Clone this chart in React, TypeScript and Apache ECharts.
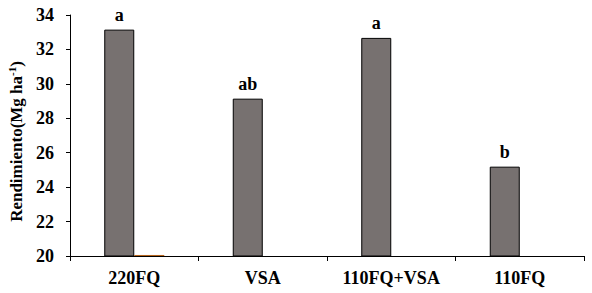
import React, { useEffect, useRef } from "react";
import * as echarts from "echarts";

const categories = ["220FQ", "VSA", "110FQ+VSA", "110FQ"];
const yieldValues = [33.15, 29.14, 32.67, 25.19];
const letters = ["a", "ab", "a", "b"];
const secondValues: (number | string)[] = [20.06, "-", "-", "-"];
const yMin = 20;
const yMax = 34;
const yInterval = 2;

const FONT = "Liberation Serif";

export default function App() {
  const ref = useRef<HTMLDivElement>(null);
  useEffect(() => {
    if (!ref.current) return;
    const chart = echarts.init(ref.current, undefined, { renderer: "svg" });
    chart.setOption({
      animation: false,
      grid: {
        left: 70,
        right: 8,
        top: 15,
        bottom: 37,
        containLabel: false,
        outerBoundsMode: "none",
      },
      xAxis: {
        type: "category",
        data: categories,
        axisLine: { lineStyle: { color: "#000", width: 1 } },
        axisTick: { show: true, length: 5, lineStyle: { color: "#000" } },
        axisLabel: {
          color: "#000",
          fontFamily: FONT,
          fontWeight: "bold",
          fontSize: 18,
          margin: 13,
        },
      },
      yAxis: {
        type: "value",
        min: yMin,
        max: yMax,
        interval: yInterval,
        splitLine: { show: false },
        axisLine: { show: true, lineStyle: { color: "#000", width: 1 } },
        axisTick: { show: true, length: 4, lineStyle: { color: "#000" } },
        axisLabel: {
          color: "#000",
          fontFamily: FONT,
          fontWeight: "bold",
          fontSize: 18,
          margin: 16,
        },
        name: "{a|Rendimiento(Mg ha}{s|-1}{a|)}",
        nameLocation: "middle",
        nameGap: 41,
        nameRotate: 90,
        nameTextStyle: {
          padding: [0, 12, 0, 0],
          rich: {
            a: {
              fontFamily: FONT,
              fontWeight: "bold",
              fontSize: 17,
              color: "#000",
              lineHeight: 20,
            },
            s: {
              fontFamily: FONT,
              fontWeight: "bold",
              fontSize: 11,
              color: "#000",
              verticalAlign: "top",
              lineHeight: 20,
            },
          },
        },
      },
      series: [
        {
          type: "bar",
          data: yieldValues,
          barWidth: 30,
          barGap: "0%",
          itemStyle: { color: "#777170", borderColor: "#000", borderWidth: 1 },
          label: {
            show: true,
            position: "top",
            distance: 6,
            formatter: (p: any) => letters[p.dataIndex],
            color: "#000",
            fontFamily: FONT,
            fontWeight: "bold",
            fontSize: 18,
          },
        },
        {
          type: "bar",
          data: secondValues,
          barWidth: 30,
          barGap: "0%",
          itemStyle: { color: "#b5651d" },
        },
      ],
    });
    return () => chart.dispose();
  }, []);
  return <div ref={ref} style={{ width: 592, height: 293, position: "absolute", left: 0, top: 0, background: "#fff" }} />;
}
